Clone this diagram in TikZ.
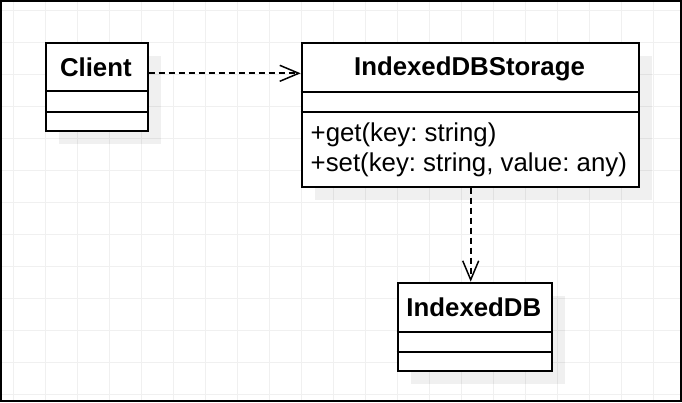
\documentclass[tikz,border=0pt]{standalone}
\usepackage{fontspec}
\setmainfont{Liberation Sans}
\usetikzlibrary{arrows.meta}
\frenchspacing
\begin{document}
\begin{tikzpicture}[x=1pt,y=-1pt,
  gridline/.style={black!6, line width=1pt},
  classbox/.style={draw=black, fill=white, line width=2pt, rectangle, inner sep=0pt, anchor=north west},
  divider/.style={line width=2pt},
  boxshadow/.style={fill=black, fill opacity=0.06, draw=none},
  ctitle/.style={font=\fontsize{25.8}{30}\selectfont\bfseries, anchor=base, inner sep=0pt},
  cmethod/.style={font=\fontsize{25.8}{30}\selectfont\frenchspacing, anchor=base west, inner sep=0pt},
  dep/.style={line width=2pt, dash pattern=on 6pt off 4pt, -{Straight Barb[length=19pt,width=16pt,line width=1.5pt]}}
]
\useasboundingbox (0,0) rectangle (682,402);
\fill[white] (0,0) rectangle (682,402);
\foreach \gx in {0,...,21} \draw[gridline] (13.7+32*\gx,0) -- (13.7+32*\gx,402);
\foreach \gy in {0,...,12} \draw[gridline] (0,10.3+32*\gy) -- (682,10.3+32*\gy);

% shadows
\fill[boxshadow] (59,55.7) rectangle (160.7,144);
\fill[boxshadow] (314.7,56) rectangle (652.3,199.7);
\fill[boxshadow] (410.7,295.7) rectangle (565,384);

% classes
\node[classbox, minimum width=101.7pt, minimum height=88.3pt] (client) at (45,41.7) {};
\node[classbox, minimum width=337.6pt, minimum height=143.7pt] (storage) at (300.7,42) {};
\node[classbox, minimum width=154.3pt, minimum height=88.3pt] (idb) at (396.7,281.7) {};

\draw[divider] (45,91.3) -- (146.7,91.3);
\draw[divider] (45,112) -- (146.7,112);
\draw[divider] (300.7,91.7) -- (638.3,91.7);
\draw[divider] (300.7,111.7) -- (638.3,111.7);
\draw[divider] (396.7,331.7) -- (551,331.7);
\draw[divider] (396.7,352) -- (551,352);

\node[ctitle] (clientt) at (95.85,76) {Client};
\node[ctitle] (storaget) at (469.5,75.5) {IndexedDBStorage};
\node[ctitle] (idbt) at (473.85,316) {IndexedDB};
\node[cmethod] (m1) at (310.5,141) {+get(key: string)};
\node[cmethod] (m2) at (310.5,171) {+set(key: string, value: any)};

% connectors
\draw[dep] (client.east |- 0,73.3) -- (storage.west |- 0,73.3);
\draw[dep] (storage.south -| 470.7,0) -- (idb.north -| 470.7,0);

% frame
\draw[line width=2pt] (1,1) rectangle (680.5,401);
\end{tikzpicture}
\end{document}
